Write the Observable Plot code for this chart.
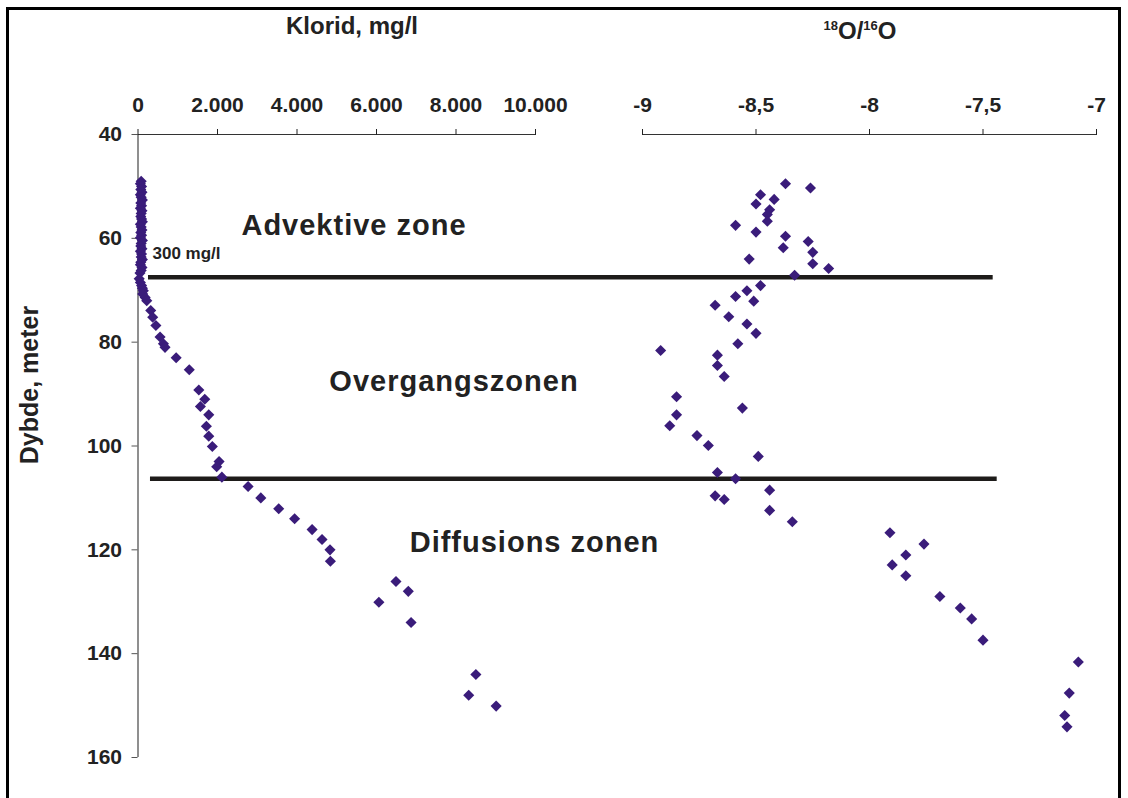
<!DOCTYPE html>
<html><head><meta charset="utf-8">
<script src="https://cdn.jsdelivr.net/npm/d3@7"></script>
<script src="https://cdn.jsdelivr.net/npm/@observablehq/plot@0.6"></script>
<style>
html,body{margin:0;padding:0;background:#fff;}
#wrap{position:relative;width:1128px;height:798px;overflow:hidden;font-family:"Liberation Sans",Arial,sans-serif;background:#fff;}
#frame{position:absolute;left:6px;top:7px;width:1109px;height:830px;border:3px solid #000;}
#wrap svg{position:absolute;left:0;top:0;}
.title{position:absolute;font-weight:bold;color:#222;white-space:nowrap;line-height:24px;}
g[font-size="29"] text{letter-spacing:1px;}
</style></head><body>
<div id="wrap">
<div id="frame"></div>
<div class="title" style="left:352px;top:14px;font-size:24px;transform:translateX(-50%);">Klorid, mg/l</div>
<div class="title" style="left:860px;top:14px;font-size:24px;transform:translateX(-50%);"><sup style="font-size:13px;vertical-align:9px;">18</sup>O/<sup style="font-size:13px;vertical-align:9px;">16</sup>O</div>
<div class="title" style="left:29px;top:385px;font-size:25px;font-weight:bold;transform:translate(-50%,-50%) rotate(-90deg);">Dybde, meter</div>
</div>
<script>
// ---- data ----
const kloridDepth = [49.0, 49.5, 50.0, 50.6, 51.1, 51.6, 52.1, 52.6, 53.2, 53.7, 54.2, 54.7, 55.2, 55.8, 56.3, 56.8, 57.3, 57.8, 58.4, 58.9, 59.4, 59.9, 60.4, 61.0, 61.5, 62.0, 62.5, 63.0, 63.6, 64.1, 64.6, 65.1, 65.6, 66.2, 66.7,
  67.8, 68.5, 69.1, 69.6, 70.1, 70.7, 71.4, 72.0, 73.9, 75.2, 76.8, 79.0, 80.3, 81.0, 83.0, 85.3, 89.2, 91.0, 92.4, 94.0, 96.2, 98.1, 100.1, 103.0, 104.0, 106.0,
  107.8, 110.0, 112.1, 114.0, 116.1, 118.0, 120.0, 122.2, 126.1, 128.0, 130.1, 134.0, 144.0, 148.0, 150.1];
const kloridValue = [80, 60, 90, 70, 100, 60, 80, 110, 70, 90, 60, 100, 80, 70, 90, 110, 60, 80, 100, 70, 90, 60, 110, 80, 70, 100, 60, 90, 80, 110, 70, 60, 100, 80, 50,
  30, 60, 90, 110, 134, 118, 180, 220, 320, 370, 450, 555, 640, 680, 960, 1290, 1530, 1680, 1570, 1780, 1720, 1780, 1870, 2040, 1980, 2110,
  2770, 3090, 3540, 3940, 4380, 4630, 4830, 4840, 6490, 6800, 6060, 6870, 8500, 8320, 9010];

const o18Depth = [49.5, 50.3, 51.6, 52.5, 53.4, 54.5, 55.4, 56.7, 57.5, 58.8, 59.6, 60.6, 61.8, 62.7, 64.0, 64.9, 65.8, 67.1, 69.1, 70.1, 71.2, 72.1, 72.9, 75.1, 76.5, 78.3, 80.3, 81.6, 82.5, 84.5, 86.6, 90.5, 92.7, 94.0, 96.1, 98.0, 99.9, 102.0, 105.1, 106.3, 108.5, 109.6, 110.3, 112.4, 114.6, 116.7, 118.9, 121.0, 122.9, 125.0, 129.0, 131.2, 133.3, 137.4, 141.6, 147.6, 151.9, 154.1];
const o18Value = [-8.37, -8.26, -8.48, -8.42, -8.50, -8.44, -8.45, -8.45, -8.59, -8.50, -8.37, -8.27, -8.38, -8.25, -8.53, -8.25, -8.18, -8.33, -8.48, -8.54, -8.59, -8.51, -8.68, -8.62, -8.54, -8.50, -8.58, -8.92, -8.67, -8.67, -8.64, -8.85, -8.56, -8.85, -8.88, -8.76, -8.71, -8.49, -8.67, -8.59, -8.44, -8.68, -8.64, -8.44, -8.34, -7.91, -7.76, -7.84, -7.90, -7.84, -7.69, -7.60, -7.55, -7.50, -7.08, -7.12, -7.14, -7.13];

const depthTicks = [40, 60, 80, 100, 120, 140, 160];
const kloridTicks = [0, 2000, 4000, 6000, 8000, 10000];
const o18Ticks = [-9, -8.5, -8, -7.5, -7];

// zone boundary lines (depth, start/end in Klorid units)
const zoneDepth = [67.5, 106.3];
const zoneFrom = [264, 314];
const zoneTo = [21514, 21615];

const zoneLabels = ["Advektive zone", "Overgangszonen", "Diffusions zonen"];
const zoneLabelDepth = [57.6, 87.6, 118.6];
const zoneLabelKlorid = [5434, 7950, 9975];

const noteLabel = ["300 mg/l"];
const noteDepth = [63.0];
const noteKlorid = [365];

// ---- build ----
const locale = d3.formatLocale({decimal: ",", thousands: ".", grouping: [3], currency: ["", ""], minus: "-"});
const fmtK = locale.format(",");
const fmtO = locale.format("");

const kData = kloridDepth.map((d, i) => ({depth: d, v: kloridValue[i]}));
const oData = o18Depth.map((d, i) => ({depth: d, v: o18Value[i]}));
const lines = zoneDepth.map((d, i) => ({depth: d, x1: zoneFrom[i], x2: zoneTo[i]}));
const labels = zoneLabels.map((t, i) => ({t, depth: zoneLabelDepth[i], v: zoneLabelKlorid[i]}));
const notes = noteLabel.map((t, i) => ({t, depth: noteDepth[i], v: noteKlorid[i]}));

const W = 1128, H = 798;
const common = {
  width: W, height: H, marginTop: 134, marginBottom: H - 757,
  style: {background: "transparent", fontFamily: "'Liberation Sans', Arial, sans-serif", fontSize: "21px", fontWeight: "bold", color: "#222", overflow: "visible"},
  y: {domain: [40, 160], reverse: true, axis: null, label: null}
};
const dotColor = "#3a1c7a";

const p1 = Plot.plot({
  ...common,
  marginLeft: 137.5, marginRight: W - 535,
  x: {domain: [0, 10000], axis: null, label: null},
  marks: [
    Plot.ruleX([0], {y1: 40, y2: 160, stroke: "#8f8f8f", strokeWidth: 2}),
    Plot.ruleY([40], {x1: 0, x2: 10000, stroke: "#333", strokeWidth: 1}),
    Plot.axisX({anchor: "top", ticks: kloridTicks, tickFormat: fmtK, tickSize: 6, tickPadding: 17, label: null, fontSize: 21}),
    Plot.axisY({anchor: "left", ticks: depthTicks, tickSize: 6, tickPadding: 10, label: null, fontSize: 21, stroke: "#555"}),
    Plot.ruleY(lines, {y: "depth", x1: "x1", x2: "x2", stroke: "#1e1c1a", strokeWidth: 4.5}),
    Plot.dot(kData, {x: "v", y: "depth", symbol: "diamond2", r: 5, fill: dotColor, stroke: "none"}),
    Plot.text(labels, {x: "v", y: "depth", text: "t", fontSize: 29, fontWeight: "bold", fill: "#222"}),
    Plot.text(notes, {x: "v", y: "depth", text: "t", fontSize: 17, fontWeight: "bold", fill: "#222", textAnchor: "start"})
  ]
});

const p2 = Plot.plot({
  ...common,
  marginLeft: 642, marginRight: W - 1096,
  x: {domain: [-9, -7], axis: null, label: null},
  marks: [
    Plot.ruleY([40], {x1: -9, x2: -7, stroke: "#333", strokeWidth: 1}),
    Plot.axisX({anchor: "top", ticks: o18Ticks, tickFormat: fmtO, tickSize: 6, tickPadding: 17, label: null, fontSize: 21}),
    Plot.dot(oData, {x: "v", y: "depth", symbol: "diamond2", r: 5, fill: dotColor, stroke: "none"})
  ]
});

const wrap = document.getElementById("wrap");
wrap.appendChild(p1);
wrap.appendChild(p2);
</script>
</body></html>
